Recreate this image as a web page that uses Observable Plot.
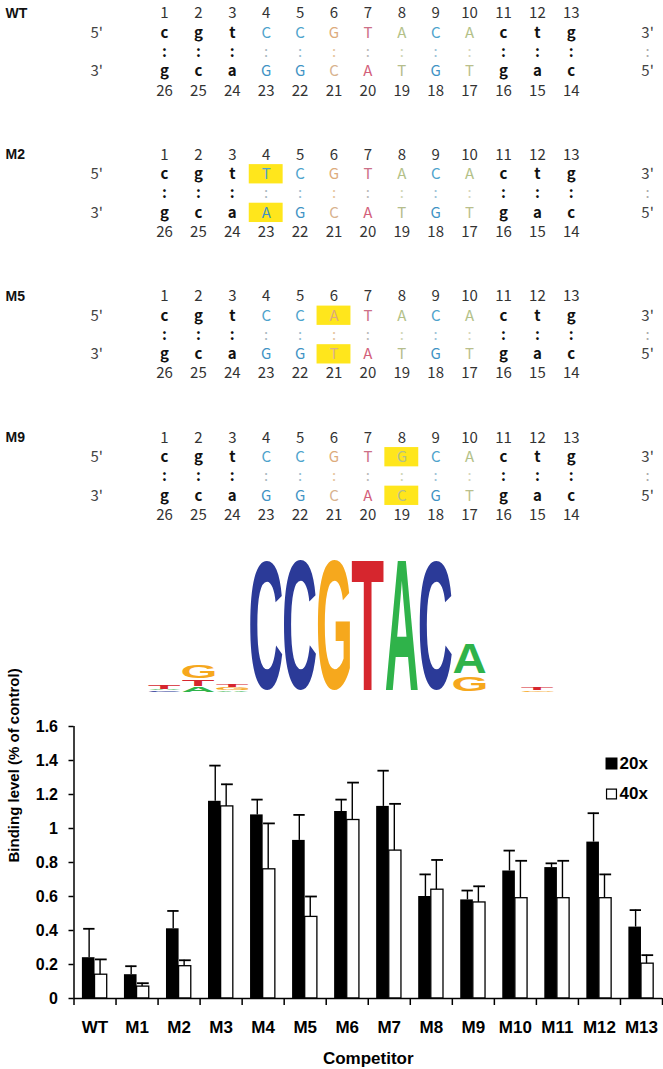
<!DOCTYPE html>
<html><head><meta charset="utf-8">
<script src="https://cdn.jsdelivr.net/npm/d3@7"></script>
<script src="https://cdn.jsdelivr.net/npm/@observablehq/plot@0.6"></script>
<style>
html,body{margin:0;padding:0;background:#fff;}
#root{position:relative;width:663px;height:1069px;overflow:hidden;background:#fff;}
#root svg{position:absolute;left:0;overflow:visible;}
</style></head><body><div id="root"></div>
<script>
// ---------- DATA ----------
const panels = ["WT", "M2", "M5", "M9"];
const topStrand = ["c","g","t","C","C","G","T","A","C","A","c","t","g"];
const bottomStrand = ["g","c","a","G","G","C","A","T","G","T","g","a","c"];
const topNumbers = [1,2,3,4,5,6,7,8,9,10,11,12,13];
const bottomNumbers = [26,25,24,23,22,21,20,19,18,17,16,15,14];
const mutPanel = ["M2", "M5", "M9"];
const mutPos = [4, 6, 8];
const mutTop = ["T", "A", "G"];
const mutBottom = ["A", "T", "C"];

const logoPos    = [1, 1, 1, 2, 2, 2, 3, 3, 3, 4, 5, 6, 7, 8, 9, 10, 10, 12, 12];
const logoLetter = ["C","A","T","A","T","G","A","G","T","C","C","G","T","A","C","G","A","G","T"];
const logoBits   = [0.03,0.02,0.06, 0.08,0.10,0.23, 0.03,0.04,0.05, 1.92,1.93,1.93,1.95,1.95,1.92, 0.25,0.49, 0.03,0.04];

const competitors = ["WT","M1","M2","M3","M4","M5","M6","M7","M8","M9","M10","M11","M12","M13"];
const binding20 = [0.24, 0.14, 0.41, 1.16, 1.08, 0.93, 1.10, 1.13, 0.60, 0.58, 0.75, 0.77, 0.92, 0.42];
const err20     = [0.41, 0.19, 0.515, 1.37, 1.17, 1.08, 1.17, 1.34, 0.73, 0.635, 0.87, 0.795, 1.09, 0.52];
const binding40 = [0.14, 0.07, 0.19, 1.13, 0.76, 0.48, 1.05, 0.87, 0.64, 0.565, 0.59, 0.59, 0.59, 0.205];
const err40     = [0.23, 0.09, 0.225, 1.26, 1.03, 0.60, 1.27, 1.145, 0.815, 0.66, 0.81, 0.81, 0.73, 0.255];
const yTicks = [0, 0.2, 0.4, 0.6, 0.8, 1, 1.2, 1.4, 1.6];
const seriesLabels = ["20x", "40x"];

// ---------- STYLES ----------
const root = document.getElementById("root");
const NUMFONT = "'Noto Sans CJK KR', 'Noto Sans', sans-serif";
const ARIAL = "'Liberation Sans', Arial, sans-serif";
const topColor = {4:"#4ea3cc",5:"#4ea3cc",6:"#ddab7c",7:"#cc7088",8:"#b3c188",9:"#4ea3cc",10:"#b3c188"};
const botColor = {4:"#3f93c4",5:"#3f93c4",6:"#d8b28e",7:"#d35f7b",8:"#b5bd8c",9:"#3f93c4",10:"#babf8c"};
const colonColor = {4:"#a9b8bf",5:"#93bcd2",6:"#e6c39c",7:"#b9b9b9",8:"#cfd6b5",9:"#9cc2d6",10:"#d5d6bb"};
const logoColors = {A:"#2fb34a", C:"#2b3a98", G:"#f6a81d", T:"#d6262e"};
const PITCH = 7.33; // row-units between panels

// ---------- SEQUENCE PANELS ----------
const cells = [];
panels.forEach((panel, p) => {
  const m = mutPanel.indexOf(panel);
  topStrand.forEach((t, k) => {
    const pos = k + 1;
    const mutated = m >= 0 && mutPos[m] === pos;
    cells.push({panel, p, pos, mutated,
      top: mutated ? mutTop[m] : t,
      bottom: mutated ? mutBottom[m] : bottomStrand[k],
      numTop: topNumbers[k], numBottom: bottomNumbers[k],
      colored: topColor[pos] !== undefined});
  });
});
const plain = cells.filter(d => !d.colored);
const colored = cells.filter(d => d.colored);
const muts = cells.filter(d => d.mutated);
const ends = panels.map((panel, p) => ({panel, p}));

const seqTxt = {fontFamily: NUMFONT, fontSize: 15};
const seq = Plot.plot({
  width: 663, height: 530, margin: 0,
  x: {type: "linear", domain: [1, 13], range: [164, 570.8], axis: null},
  y: {type: "linear", domain: [0, 1], range: [13, 32.3], axis: null},
  color: {type: "identity"},
  marks: [
    Plot.rect(muts, {x1: d => d.pos - 0.5, x2: d => d.pos + 0.5, y1: d => d.p * PITCH + 0.5, y2: d => d.p * PITCH + 1.5, fill: "#ffe61c"}),
    Plot.rect(muts, {x1: d => d.pos - 0.5, x2: d => d.pos + 0.5, y1: d => d.p * PITCH + 2.5, y2: d => d.p * PITCH + 3.5, fill: "#ffe61c"}),
    Plot.text(ends, {frameAnchor: "left", dx: 5, y: d => d.p * PITCH, text: "panel", textAnchor: "start", lineAnchor: "middle", fontFamily: ARIAL, fontWeight: "bold", fontSize: 14, fill: "#111"}),
    Plot.text(cells, {x: "pos", y: d => d.p * PITCH, text: d => String(d.numTop), ...seqTxt, fill: "#333"}),
    Plot.text(cells, {x: "pos", y: d => d.p * PITCH + 4, text: d => String(d.numBottom), ...seqTxt, fill: "#333"}),
    Plot.text(plain, {x: "pos", y: d => d.p * PITCH + 1, text: "top", ...seqTxt, fontWeight: "bold", fill: "#111"}),
    Plot.text(plain, {x: "pos", y: d => d.p * PITCH + 2, text: () => ":", ...seqTxt, fontWeight: "bold", fill: "#111"}),
    Plot.text(plain, {x: "pos", y: d => d.p * PITCH + 3, text: "bottom", ...seqTxt, fontWeight: "bold", fill: "#111"}),
    Plot.text(colored, {x: "pos", y: d => d.p * PITCH + 1, text: "top", ...seqTxt, fill: d => topColor[d.pos]}),
    Plot.text(colored, {x: "pos", y: d => d.p * PITCH + 2, text: () => ":", ...seqTxt, fill: d => colonColor[d.pos]}),
    Plot.text(colored, {x: "pos", y: d => d.p * PITCH + 3, text: "bottom", ...seqTxt, fill: d => botColor[d.pos]}),
    Plot.text(ends, {x: () => -1, y: d => d.p * PITCH + 1, text: () => "5'", ...seqTxt, fill: "#444"}),
    Plot.text(ends, {x: () => -1, y: d => d.p * PITCH + 3, text: () => "3'", ...seqTxt, fill: "#444"}),
    Plot.text(ends, {x: () => 15.25, y: d => d.p * PITCH + 1, text: () => "3'", ...seqTxt, fill: "#444"}),
    Plot.text(ends, {x: () => 15.25, y: d => d.p * PITCH + 2, text: () => ":", ...seqTxt, fill: "#aaa"}),
    Plot.text(ends, {x: () => 15.25, y: d => d.p * PITCH + 3, text: () => "5'", ...seqTxt, fill: "#444"})
  ]
});
seq.style.top = "0px";
root.appendChild(seq);

// ---------- SEQUENCE LOGO ----------
const logoRows = [];
const cum = {};
logoPos.forEach((pos, i) => {
  const b0 = cum[pos] || 0, b1 = b0 + logoBits[i];
  cum[pos] = b1;
  logoRows.push({pos, letter: logoLetter[i], b0, b1});
});
const logo = Plot.plot({
  width: 663, height: 170, margin: 0,
  x: {type: "linear", domain: [1, 13], range: [164, 570.8], axis: null},
  y: {type: "linear", domain: [0, 2], range: [162, 22], axis: null},
  color: {type: "identity"},
  marks: [
    Plot.text(logoRows, {x: "pos", y: "b0", text: "letter", fill: d => logoColors[d.letter], fontFamily: ARIAL, fontWeight: "bold", fontSize: 100})
  ]
});
logo.style.top = "530px";
root.appendChild(logo);
(function stretchLogo() {
  const xs = logo.scale("x"), ys = logo.scale("y");
  const ctx = document.createElement("canvas").getContext("2d");
  ctx.font = "bold 100px 'Liberation Sans'";
  const step = xs.apply(2) - xs.apply(1);
  logo.querySelectorAll("text").forEach((el, i) => {
    const d = logoRows[i];
    const m = ctx.measureText(d.letter);
    const gl = m.actualBoundingBoxLeft, gr = m.actualBoundingBoxRight;
    const ga = m.actualBoundingBoxAscent, gd = m.actualBoundingBoxDescent;
    const gw = gl + gr, gh = ga + gd;
    const cx = xs.apply(d.pos), yb = ys.apply(d.b0), yt = ys.apply(d.b1);
    const h = yb - yt, inset = Math.min(2.5, h * 0.08);
    const tw = step * 0.95, th = Math.max(0.8, h - 2 * inset);
    const sx = tw / gw, sy = th / gh;
    el.removeAttribute("x"); el.removeAttribute("y"); el.removeAttribute("dy");
    el.setAttribute("text-anchor", "start");
    el.setAttribute("font-size", "100");
    el.setAttribute("transform", `translate(${cx - tw / 2 + gl * sx},${yb - inset - gd * sy}) scale(${sx},${sy})`);
  });
})();

// ---------- BAR CHART ----------
const bars = competitors.map((c, i) => ({c, i, v20: binding20[i], e20: err20[i], v40: binding40[i], e40: err40[i]}));
const bold = {fontFamily: ARIAL, fontWeight: "bold"};
const chart = Plot.plot({
  width: 663, height: 369,
  marginTop: 26, marginBottom: 71, marginLeft: 73.5, marginRight: 1,
  x: {type: "linear", domain: [0, competitors.length], axis: null},
  y: {type: "linear", domain: [0, 1.6], axis: null},
  style: {fontFamily: ARIAL},
  marks: [
    Plot.rect(bars, {x1: d => d.i + 0.2, x2: d => d.i + 0.5, y1: () => 0, y2: "v20", fill: "black"}),
    Plot.rect(bars, {x1: d => d.i + 0.5, x2: d => d.i + 0.79, y1: () => 0, y2: "v40", fill: "white", stroke: "black", strokeWidth: 1.3}),
    Plot.ruleX(bars, {x: d => d.i + 0.36, y1: "v20", y2: "e20", stroke: "black", strokeWidth: 1.4}),
    Plot.ruleY(bars, {y: "e20", x1: d => d.i + 0.23, x2: d => d.i + 0.5, stroke: "black", strokeWidth: 1.8}),
    Plot.ruleX(bars, {x: d => d.i + 0.62, y1: "v40", y2: "e40", stroke: "black", strokeWidth: 1.4}),
    Plot.ruleY(bars, {y: "e40", x1: d => d.i + 0.51, x2: d => d.i + 0.79, stroke: "black", strokeWidth: 1.8}),
    Plot.ruleX([0], {stroke: "black", strokeWidth: 1.5}),
    Plot.ruleY([0], {stroke: "black", strokeWidth: 1.5}),
    Plot.axisY({ticks: yTicks, tickSize: 5, tickPadding: 11, tickFormat: d3.format("~g"), fontSize: 16, ...bold, strokeWidth: 1.5, fill: "black"}),
    Plot.axisX({ticks: d3.range(competitors.length + 1), tickSize: 7, tickFormat: () => "", strokeWidth: 1.5}),
    Plot.text(bars, {x: d => d.i + 0.5, y: () => 0, dy: 29, text: "c", lineAnchor: "middle", fontSize: 17, ...bold, fill: "black"}),
    Plot.text(["Competitor"], {frameAnchor: "bottom", dy: 60, lineAnchor: "middle", fontSize: 17, ...bold, fill: "black"}),
    Plot.text(["Binding level (% of control)"], {frameAnchor: "left", dx: -60, rotate: -90, lineAnchor: "middle", fontSize: 15, ...bold, fill: "black"}),
    Plot.dot([seriesLabels[0]], {frameAnchor: "top-right", dx: -51, dy: 37, symbol: "square", r: 5.9, fill: "black", stroke: "black"}),
    Plot.dot([seriesLabels[1]], {frameAnchor: "top-right", dx: -51, dy: 67.5, symbol: "square", r: 5.6, fill: "white", stroke: "black", strokeWidth: 1.2}),
    Plot.text([seriesLabels[0]], {frameAnchor: "top-right", dx: -43, dy: 37, textAnchor: "start", lineAnchor: "middle", fontSize: 17, ...bold, fill: "black"}),
    Plot.text([seriesLabels[1]], {frameAnchor: "top-right", dx: -43, dy: 67.5, textAnchor: "start", lineAnchor: "middle", fontSize: 17, ...bold, fill: "black"})
  ]
});
chart.style.top = "700px";
root.appendChild(chart);
</script></body></html>
